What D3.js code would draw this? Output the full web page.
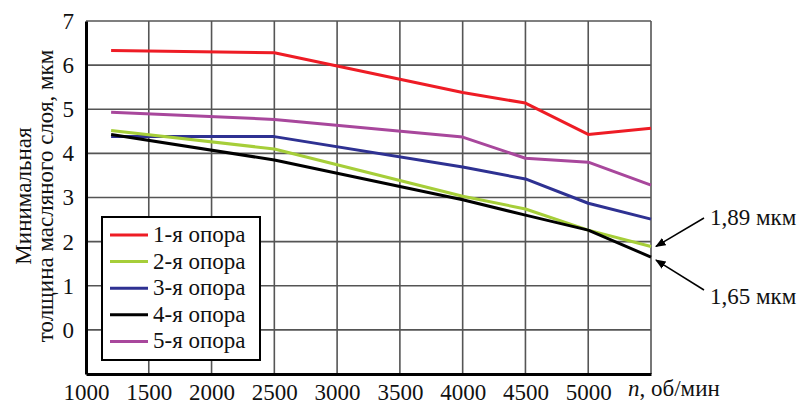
<!DOCTYPE html>
<html>
<head>
<meta charset="utf-8">
<script src="https://cdn.jsdelivr.net/npm/d3@7"></script>
<style>
  body { margin: 0; background: #fff; }
  svg text { font-family: "Liberation Serif", "DejaVu Serif", serif; fill: #111; }
</style>
</head>
<body>
<svg id="chart" width="801" height="405"></svg>
<script>
// rpm points
var speeds = [1200, 2500, 4000, 4500, 5000, 5500];

var series_names = ["1-я опора", "2-я опора", "3-я опора", "4-я опора", "5-я опора"];
var series_colors = ["#ee1c25", "#a6ce39", "#2e3192", "#000000", "#a8479c"];

var bearing1 = [6.33, 6.28, 5.38, 5.14, 4.43, 4.57];
var bearing2 = [4.52, 4.10, 3.03, 2.74, 2.26, 1.89];
var bearing3 = [4.38, 4.38, 3.69, 3.42, 2.87, 2.51];
var bearing4 = [4.43, 3.85, 2.95, 2.60, 2.26, 1.65];
var bearing5 = [4.93, 4.77, 4.37, 3.89, 3.80, 3.28];

var x_ticks = [1000, 1500, 2000, 2500, 3000, 3500, 4000, 4500, 5000];
var y_ticks = [0, 1, 2, 3, 4, 5, 6, 7];

var notes = [
  {text: "1,89 мкм", value: 1.89},
  {text: "1,65 мкм", value: 1.65}
];

var svg = d3.select("#chart");

var m_left = 86, m_right = 651, m_top = 21, m_bottom = 374;

var x = d3.scaleLinear().domain([1000, 5500]).range([m_left, m_right]);
var y = d3.scaleLinear().domain([-1, 7]).range([m_bottom, m_top]);

// grid
var grid = svg.append("g");
grid.selectAll(".vg")
    .data(x_ticks.slice(1).concat([5500]))
    .enter().append("line")
    .attr("x1", function (d) { return x(d); })
    .attr("x2", function (d) { return x(d); })
    .attr("y1", m_top)
    .attr("y2", m_bottom)
    .attr("stroke", "#555")
    .attr("stroke-width", 1.6);

grid.selectAll(".hg")
    .data(y_ticks)
    .enter().append("line")
    .attr("x1", m_left)
    .attr("x2", m_right)
    .attr("y1", function (d) { return y(d); })
    .attr("y2", function (d) { return y(d); })
    .attr("stroke", "#555")
    .attr("stroke-width", 1.6);

// axes
var x_axis = d3.axisBottom(x).tickValues(x_ticks).tickFormat(d3.format("d")).tickSize(0).tickPadding(10);
var y_axis = d3.axisLeft(y).tickValues(y_ticks).tickSize(0).tickPadding(12);

var gx = svg.append("g").attr("transform", "translate(0," + m_bottom + ")").call(x_axis);
var gy = svg.append("g").attr("transform", "translate(" + m_left + ",0)").call(y_axis);

[gx, gy].forEach(function (g) {
  g.select(".domain").attr("stroke", "#000").attr("stroke-width", 3);
  g.selectAll("text").style("font-size", "23px").style("font-family", "Liberation Serif, serif").attr("fill", "#111");
});

// lines
var all_series = [bearing1, bearing2, bearing3, bearing4, bearing5];
var line = d3.line()
    .x(function (d, i) { return x(speeds[i]); })
    .y(function (d) { return y(d); });

// draw order: purple, blue, red, green, black
[4, 2, 0, 1, 3].forEach(function (idx) {
  svg.append("path")
     .attr("d", line(all_series[idx]))
     .attr("fill", "none")
     .attr("stroke", series_colors[idx])
     .attr("stroke-width", 3)
     .attr("stroke-linejoin", "round");
});

// legend
var lg = svg.append("g");
lg.append("rect")
  .attr("x", 102).attr("y", 217)
  .attr("width", 158).attr("height", 143)
  .attr("fill", "#fff")
  .attr("stroke", "#000")
  .attr("stroke-width", 2);

series_names.forEach(function (name, i) {
  var yy = 235 + i * 26.6;
  lg.append("line")
    .attr("x1", 110).attr("x2", 148)
    .attr("y1", yy).attr("y2", yy)
    .attr("stroke", series_colors[i])
    .attr("stroke-width", 3);
  lg.append("text")
    .attr("x", 153).attr("y", yy + 7)
    .style("font-size", "23px")
    .text(name);
});

// y title
var yt = svg.append("text")
    .attr("transform", "translate(0,196) rotate(-90)")
    .attr("text-anchor", "middle")
    .style("font-size", "23px");
yt.append("tspan").attr("x", 0).attr("y", 31).text("Минимальная");
yt.append("tspan").attr("x", 0).attr("y", 53).text("толщина масляного слоя, мкм");

// x title
var xt = svg.append("text")
    .attr("x", 628).attr("y", 396)
    .style("font-size", "23px");
xt.append("tspan").style("font-style", "italic").text("n");
xt.append("tspan").text(", об/мин");

// annotations
svg.append("defs").append("marker")
   .attr("id", "arr")
   .attr("viewBox", "0 0 10 10")
   .attr("refX", 9).attr("refY", 5)
   .attr("markerWidth", 7).attr("markerHeight", 7)
   .attr("orient", "auto")
   .append("path")
   .attr("d", "M0,1 L10,5 L0,9 z")
   .attr("fill", "#000");

var note_y = [218, 297];
var arrow_start = [[704, 218], [704, 290]];
notes.forEach(function (n, i) {
  svg.append("line")
     .attr("x1", arrow_start[i][0]).attr("y1", arrow_start[i][1])
     .attr("x2", x(5500) + 5).attr("y2", y(n.value) + (i === 0 ? 0 : 3))
     .attr("stroke", "#000")
     .attr("stroke-width", 1.5)
     .attr("marker-end", "url(#arr)");
  svg.append("text")
     .attr("x", 710).attr("y", note_y[i] + 7)
     .style("font-size", "23px")
     .text(n.text);
});
</script>
</body>
</html>
